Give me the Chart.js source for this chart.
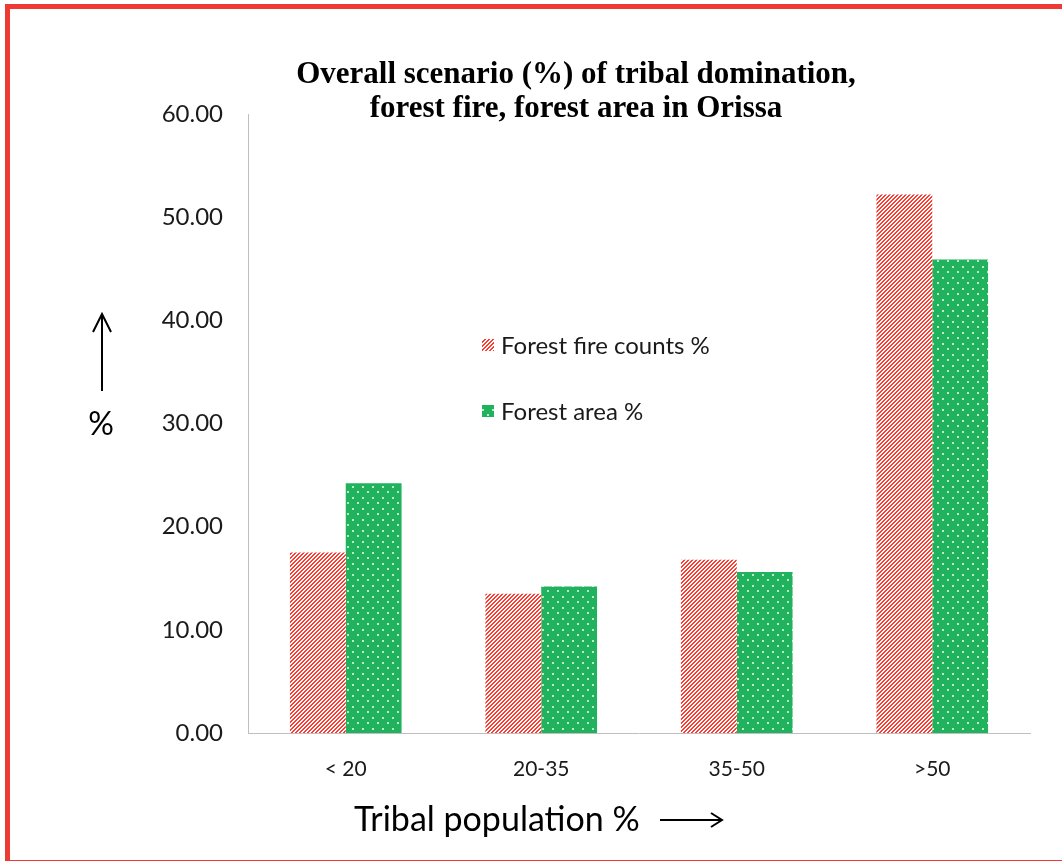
<!DOCTYPE html>
<html>
<head>
<meta charset="utf-8">
<script src="https://cdn.jsdelivr.net/npm/chart.js@4.4.1/dist/chart.umd.min.js"></script>
<style>
  html, body { margin: 0; padding: 0; background: #fff; }
  #wrap { position: relative; width: 1062px; height: 861px; }
  #frame { position: absolute; left: 5px; top: 4px; width: 1070px; height: 851px;
           border: 5px solid #ee3a33; box-sizing: content-box; pointer-events: none; }
  canvas { position: absolute; left: 0; top: 0; }
</style>
</head>
<body>
<div id="wrap">
  <canvas id="c" width="1062" height="861"></canvas>
  <div id="frame"></div>
</div>
<script>
const categories = ['< 20', '20-35', '35-50', '>50'];
const fireCounts = [17.5, 13.5, 16.8, 52.2];
const forestArea = [24.2, 14.2, 15.6, 45.9];
const yTicks = [0, 10, 20, 30, 40, 50, 60];
const seriesNames = ['Forest fire counts %', 'Forest area %'];
const titleLines = ['Overall scenario (%) of tribal domination,', 'forest fire, forest area in Orissa'];
const xTitle = 'Tribal population %';
const yTitle = '%';

const TICK_FONT = 'Lato, "Open Sans", sans-serif';

// Diagonal red hatching on white
function hatchPattern(ctx) {
  const t = document.createElement('canvas');
  t.width = 4; t.height = 4;
  const g = t.getContext('2d');
  g.fillStyle = '#ffffff';
  g.fillRect(0, 0, 4, 4);
  for (let i = 0; i < 4; i++) {
    // stripe running up to the right, two pixels wide
    g.fillStyle = '#ff3b30';
    g.fillRect((3 - i + 4) % 4, i, 1, 1);
    g.fillRect((3 - i + 5) % 4, i, 1, 1);
  }
  return ctx.createPattern(t, 'repeat');
}

// Green fill with a staggered grid of small white dots
function dotPattern(ctx) {
  const t = document.createElement('canvas');
  t.width = 10; t.height = 11;
  const g = t.getContext('2d');
  g.fillStyle = '#20b25c';
  g.fillRect(0, 0, 10, 11);
  g.fillStyle = 'rgba(255,255,255,0.7)';
  g.fillRect(2, 2, 2, 2);
  g.fillRect(7, 7, 2, 2);
  return ctx.createPattern(t, 'repeat');
}

const canvas = document.getElementById('c');
const ctx = canvas.getContext('2d');
const hatch = hatchPattern(ctx);
const dots = dotPattern(ctx);

const decorations = {
  id: 'decorations',
  afterDraw(chart) {
    const c = chart.ctx;
    c.save();
    // title
    c.fillStyle = '#000';
    c.textAlign = 'center';
    c.textBaseline = 'middle';
    c.font = 'bold 31px "Liberation Serif", "Times New Roman", serif';
    c.fillText(titleLines[0], 576, 75);
    c.fillText(titleLines[1], 576, 109);

    // legend inside the plot
    c.textAlign = 'left';
    c.font = '24px ' + TICK_FONT;
    c.fillStyle = hatch;
    c.fillRect(482, 339, 12, 12);
    c.fillStyle = dots;
    c.fillRect(482, 405, 12, 12);
    c.fillStyle = '#1a1a1a';
    c.fillText(seriesNames[0], 501, 346);
    c.fillText(seriesNames[1], 501, 412);

    // x axis title with arrow
    c.font = '34px ' + TICK_FONT;
    c.fillStyle = '#000';
    c.fillText(xTitle, 354, 820);
    c.strokeStyle = '#000';
    c.lineWidth = 2;
    c.beginPath();
    c.moveTo(660, 820); c.lineTo(721, 820);
    c.moveTo(711, 813); c.lineTo(722, 820); c.lineTo(711, 827);
    c.stroke();

    // y axis title with arrow
    c.textAlign = 'center';
    c.font = '32px ' + TICK_FONT;
    c.fillText(yTitle, 101, 425);
    c.beginPath();
    c.moveTo(102, 391); c.lineTo(102, 315);
    c.moveTo(93, 332); c.lineTo(102, 314); c.lineTo(111, 332);
    c.stroke();
    c.restore();
  }
};

new Chart(ctx, {
  type: 'bar',
  data: {
    labels: categories,
    datasets: [
      { label: seriesNames[0], data: fireCounts, backgroundColor: hatch, borderWidth: 0 },
      { label: seriesNames[1], data: forestArea, backgroundColor: dots, borderWidth: 0 }
    ]
  },
  options: {
    responsive: false,
    animation: false,
    devicePixelRatio: 1,
    datasets: { bar: { categoryPercentage: 0.571, barPercentage: 1.0 } },
    layout: { padding: { top: 114, right: 32, left: 0, bottom: 0 } },
    plugins: { legend: { display: false }, title: { display: false }, tooltip: { enabled: false } },
    scales: {
      x: {
        grid: { display: false, drawTicks: false },
        border: { display: true, color: '#bfbfbf', width: 1 },
        ticks: { color: '#1a1a1a', font: { family: TICK_FONT, size: 21 }, padding: 24 },
        afterFit(s) { s.height = 128; }
      },
      y: {
        min: 0, max: 60,
        afterBuildTicks(s) { s.ticks = yTicks.map(v => ({ value: v })); },
        grid: { display: false, drawTicks: false },
        border: { display: true, color: '#bfbfbf', width: 1 },
        ticks: {
          color: '#1a1a1a',
          font: { family: TICK_FONT, size: 24 },
          padding: 25,
          callback: v => Number(v).toFixed(2)
        },
        afterFit(s) { s.width = 248; }
      }
    }
  },
  plugins: [decorations]
});
</script>
</body>
</html>
